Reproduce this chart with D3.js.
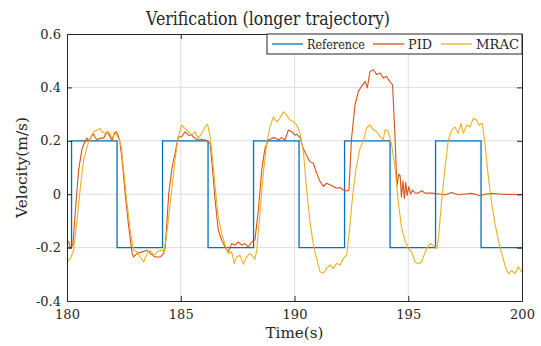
<!DOCTYPE html>
<html>
<head>
<meta charset="utf-8">
<script src="https://cdn.jsdelivr.net/npm/d3@7"></script>
<style>
  body { margin: 0; background: #fff; }
  text { font-family: "DejaVu Serif", serif; fill: #262626; }
</style>
</head>
<body>
<div id="chart"></div>
<script>
// reference step signal (switch times and levels)
var refTime = [180, 180.2, 182.2, 184.2, 186.2, 188.2, 190.2, 192.2, 194.2, 196.2, 198.2, 200];
var refVel  = [-0.2, 0.2, -0.2, 0.2, -0.2, 0.2, -0.2, 0.2, -0.2, 0.2, -0.2, -0.2];

// PID response
var pidTime = [180.0, 180.08, 180.15, 180.26, 180.37, 180.51, 180.66, 180.80, 180.88, 180.96, 181.10, 181.17, 181.25, 181.32, 181.47, 181.61, 181.76, 181.83, 181.98, 182.08, 182.18, 182.25, 182.32, 182.42, 182.56, 182.71, 182.86, 182.93, 183.08, 183.30, 183.52, 183.66, 183.88, 184.10, 184.25, 184.32, 184.47, 184.62, 184.76, 184.89, 185.04, 185.19, 185.33, 185.48, 185.63, 185.77, 185.92, 186.07, 186.21, 186.29, 186.36, 186.51, 186.65, 186.80, 186.95, 187.09, 187.24, 187.38, 187.53, 187.68, 187.82, 187.97, 188.12, 188.26, 188.41, 188.56, 188.70, 188.85, 189.00, 189.14, 189.29, 189.44, 189.58, 189.73, 189.88, 190.02, 190.10, 190.24, 190.39, 190.53, 190.68, 190.83, 190.97, 191.12, 191.27, 191.41, 191.56, 191.71, 191.85, 192.00, 192.15, 192.29, 192.39, 192.51, 192.66, 192.81, 192.95, 193.10, 193.20, 193.32, 193.47, 193.61, 193.76, 193.90, 194.05, 194.20, 194.31, 194.42, 194.50, 194.58, 194.64, 194.70, 194.77, 194.83, 194.89, 194.95, 195.02, 195.10, 195.18, 195.30, 195.44, 195.59, 195.74, 196.03, 196.32, 196.62, 196.91, 197.20, 197.49, 197.79, 198.01, 198.16, 198.37, 198.67, 199.11, 199.55, 200.0];
var pidVel  = [-0.17, -0.18, -0.20, -0.19, -0.06, 0.09, 0.17, 0.20, 0.21, 0.20, 0.22, 0.225, 0.21, 0.205, 0.21, 0.21, 0.234, 0.225, 0.20, 0.23, 0.234, 0.22, 0.20, 0.13, 0.0, -0.12, -0.22, -0.235, -0.222, -0.216, -0.21, -0.222, -0.235, -0.235, -0.222, -0.198, 0.0, 0.10, 0.159, 0.215, 0.215, 0.234, 0.221, 0.221, 0.209, 0.203, 0.205, 0.203, 0.196, 0.19, 0.128, -0.022, -0.135, -0.172, -0.198, -0.216, -0.185, -0.191, -0.179, -0.191, -0.185, -0.198, -0.179, -0.172, -0.06, 0.09, 0.171, 0.203, 0.209, 0.212, 0.203, 0.212, 0.203, 0.24, 0.234, 0.221, 0.225, 0.212, 0.17, 0.145, 0.122, 0.116, 0.079, 0.048, 0.029, 0.041, 0.035, 0.029, 0.022, 0.025, 0.016, 0.012, 0.016, 0.21, 0.335, 0.385, 0.404, 0.422, 0.398, 0.46, 0.466, 0.448, 0.454, 0.435, 0.441, 0.42, 0.41, 0.21, 0.03, 0.075, 0.07, -0.01, 0.05, -0.016, 0.045, -0.005, 0.028, 0.0, 0.015, 0.005, 0.004, 0.013, 0.004, 0.004, 0.001, -0.002, 0.006, -0.002, 0.001, 0.003, -0.002, -0.006, 0.0, 0.003, 0.0, -0.001, -0.003];

// MRAC response
var mracTime = [180.0, 180.15, 180.29, 180.44, 180.59, 180.73, 180.95, 181.17, 181.32, 181.46, 181.54, 181.68, 181.83, 181.98, 182.12, 182.27, 182.39, 182.49, 182.64, 182.78, 182.93, 183.08, 183.22, 183.37, 183.52, 183.66, 183.81, 183.96, 184.10, 184.25, 184.35, 184.47, 184.62, 184.75, 184.89, 185.04, 185.19, 185.33, 185.48, 185.63, 185.77, 185.92, 186.07, 186.18, 186.29, 186.39, 186.51, 186.65, 186.80, 186.95, 187.09, 187.24, 187.35, 187.45, 187.60, 187.75, 187.89, 188.04, 188.19, 188.26, 188.34, 188.48, 188.63, 188.78, 188.92, 189.07, 189.22, 189.36, 189.51, 189.66, 189.80, 189.95, 190.10, 190.24, 190.39, 190.53, 190.68, 190.83, 190.97, 191.12, 191.27, 191.41, 191.56, 191.71, 191.85, 192.00, 192.15, 192.29, 192.41, 192.56, 192.71, 192.88, 193.03, 193.17, 193.32, 193.47, 193.61, 193.76, 193.90, 193.98, 194.12, 194.27, 194.42, 194.56, 194.71, 194.85, 195.00, 195.15, 195.30, 195.44, 195.59, 195.66, 195.81, 195.96, 196.10, 196.25, 196.32, 196.47, 196.62, 196.76, 196.91, 197.05, 197.20, 197.32, 197.42, 197.57, 197.71, 197.86, 198.01, 198.11, 198.26, 198.37, 198.52, 198.67, 198.81, 198.96, 199.11, 199.25, 199.40, 199.55, 199.69, 199.84, 200.0];
var mracVel  = [-0.254, -0.241, -0.21, -0.098, 0.028, 0.128, 0.196, 0.234, 0.24, 0.246, 0.234, 0.228, 0.234, 0.212, 0.228, 0.209, 0.175, 0.09, -0.035, -0.135, -0.21, -0.216, -0.235, -0.254, -0.222, -0.21, -0.229, -0.216, -0.21, -0.212, -0.172, -0.085, 0.028, 0.13, 0.215, 0.259, 0.246, 0.234, 0.221, 0.234, 0.209, 0.228, 0.252, 0.262, 0.215, 0.14, 0.028, -0.085, -0.148, -0.191, -0.222, -0.216, -0.26, -0.235, -0.229, -0.262, -0.235, -0.222, -0.235, -0.244, -0.21, -0.072, 0.078, 0.19, 0.252, 0.29, 0.271, 0.284, 0.309, 0.296, 0.278, 0.272, 0.26, 0.229, 0.16, 0.022, -0.102, -0.19, -0.24, -0.29, -0.296, -0.278, -0.265, -0.278, -0.259, -0.265, -0.24, -0.228, -0.14, -0.002, 0.098, 0.172, 0.198, 0.248, 0.26, 0.241, 0.235, 0.216, 0.204, 0.241, 0.235, 0.185, 0.098, -0.028, -0.128, -0.171, -0.204, -0.216, -0.254, -0.26, -0.254, -0.235, -0.204, -0.185, -0.191, -0.204, -0.172, -0.022, 0.102, 0.202, 0.24, 0.252, 0.228, 0.265, 0.228, 0.259, 0.252, 0.284, 0.278, 0.259, 0.265, 0.19, 0.065, -0.035, -0.11, -0.172, -0.222, -0.266, -0.298, -0.285, -0.298, -0.272, -0.291];

var xTicks = [180, 185, 190, 195, 200];
var yTicks = [-0.4, -0.2, 0, 0.2, 0.4, 0.6];
var seriesNames = ['Reference', 'PID', 'MRAC'];
var seriesColors = ['#0072BD', '#D95319', '#EDB120'];

var svgWidth = 541,
	svgHeight = 346;
var margin = { t: 34, r: 19, b: 45, l: 67 };
var width = svgWidth - margin.l - margin.r,
	height = svgHeight - margin.t - margin.b;

var svg = d3.select('#chart').append('svg')
	.attr('width', svgWidth)
	.attr('height', svgHeight);

var chartGroup = svg.append('g')
	.attr('transform', `translate(${margin.l},${margin.t})`);

var xScale = d3.scaleLinear().domain([180, 200]).range([0, width]);
var yScale = d3.scaleLinear().domain([-0.4, 0.6]).range([height, 0]);

// grid
chartGroup.append('g').selectAll('line')
	.data(xTicks.slice(1, -1))
	.enter().append('line')
	.attr('x1', d => xScale(d)).attr('x2', d => xScale(d))
	.attr('y1', 0).attr('y2', height)
	.attr('stroke', '#dfdfdf').attr('stroke-width', 1);
chartGroup.append('g').selectAll('line')
	.data(yTicks.slice(1, -1))
	.enter().append('line')
	.attr('x1', 0).attr('x2', width)
	.attr('y1', d => yScale(d)).attr('y2', d => yScale(d))
	.attr('stroke', '#dfdfdf').attr('stroke-width', 1);

// lines, clipped to the axes box
svg.append('clipPath').attr('id', 'plotclip')
	.append('rect').attr('width', width).attr('height', height);

var plot = chartGroup.append('g').attr('clip-path', 'url(#plotclip)');

var refLine = d3.line()
	.x((d, i) => xScale(refTime[i]))
	.y(d => yScale(d))
	.curve(d3.curveStepAfter);
plot.append('path')
	.datum(refVel)
	.attr('d', refLine)
	.attr('fill', 'none')
	.attr('stroke', seriesColors[0])
	.attr('stroke-width', 1.3);

function drawSeries(times, vals, color) {
	var line = d3.line()
		.x((d, i) => xScale(times[i]))
		.y(d => yScale(d));
	plot.append('path')
		.datum(vals)
		.attr('d', line)
		.attr('fill', 'none')
		.attr('stroke', color)
		.attr('stroke-width', 1.1)
		.attr('stroke-linejoin', 'round');
}
drawSeries(pidTime, pidVel, seriesColors[1]);
drawSeries(mracTime, mracVel, seriesColors[2]);

// axes, ticks inside, box all round
var xAxis = chartGroup.append('g')
	.attr('transform', `translate(0,${height})`)
	.call(d3.axisBottom(xScale).tickValues(xTicks).tickSizeInner(-5).tickSizeOuter(0).tickPadding(9).tickFormat(d3.format('d')));
var xTop = chartGroup.append('g')
	.call(d3.axisTop(xScale).tickValues(xTicks).tickSizeInner(-5).tickSizeOuter(0).tickFormat(''));
var yAxis = chartGroup.append('g')
	.call(d3.axisLeft(yScale).tickValues(yTicks).tickSizeInner(-5).tickSizeOuter(0).tickPadding(6)
		.tickFormat(d => d === 0 ? '0' : d3.format('.1f')(d).replace('−', '-')));
var yRight = chartGroup.append('g')
	.attr('transform', `translate(${width},0)`)
	.call(d3.axisRight(yScale).tickValues(yTicks).tickSizeInner(-5).tickSizeOuter(0).tickFormat(''));

[xAxis, xTop, yAxis, yRight].forEach(a => {
	a.attr('font-family', null);
	a.select('.domain').attr('stroke', '#262626').attr('stroke-width', 1);
	a.selectAll('.tick line').attr('stroke', '#262626');
	a.selectAll('.tick text').attr('fill', '#262626')
		.style('font-family', '"DejaVu Serif", serif').style('font-size', '13px');
});

// title and axis labels (squeezed a little to get the narrower TeX look)
svg.append('text')
	.attr('x', 268)
	.attr('y', 25)
	.attr('text-anchor', 'middle')
	.attr('textLength', 244)
	.attr('lengthAdjust', 'spacingAndGlyphs')
	.style('font-size', '18px')
	.text('Verification (longer trajectory)');

svg.append('text')
	.attr('x', margin.l + width / 2)
	.attr('y', 338)
	.attr('text-anchor', 'middle')
	.attr('textLength', 58)
	.attr('lengthAdjust', 'spacingAndGlyphs')
	.style('font-size', '15px')
	.text('Time(s)');

svg.append('text')
	.attr('transform', `translate(27,${margin.t + height / 2})rotate(-90)`)
	.attr('text-anchor', 'middle')
	.attr('textLength', 101)
	.attr('lengthAdjust', 'spacingAndGlyphs')
	.style('font-size', '15px')
	.text('Velocity(m/s)');

// legend
var legend = chartGroup.append('g').attr('transform', `translate(${200},0)`);
legend.append('rect')
	.attr('x', 0).attr('y', 0)
	.attr('width', width - 200).attr('height', 20)
	.attr('fill', '#fff').attr('stroke', '#262626').attr('stroke-width', 1);

var legendX = [5, 106, 174];
var textX = [40, 141, 209];
var textLen = [58, 24, 43];
seriesNames.forEach((name, i) => {
	legend.append('line')
		.attr('x1', legendX[i]).attr('x2', legendX[i] + 31)
		.attr('y1', 10).attr('y2', 10)
		.attr('stroke', seriesColors[i]).attr('stroke-width', 1.3);
	legend.append('text')
		.attr('x', textX[i]).attr('y', 14.5)
		.attr('textLength', textLen[i])
		.attr('lengthAdjust', 'spacingAndGlyphs')
		.style('font-size', '13px')
		.text(name);
});
</script>
</body>
</html>
